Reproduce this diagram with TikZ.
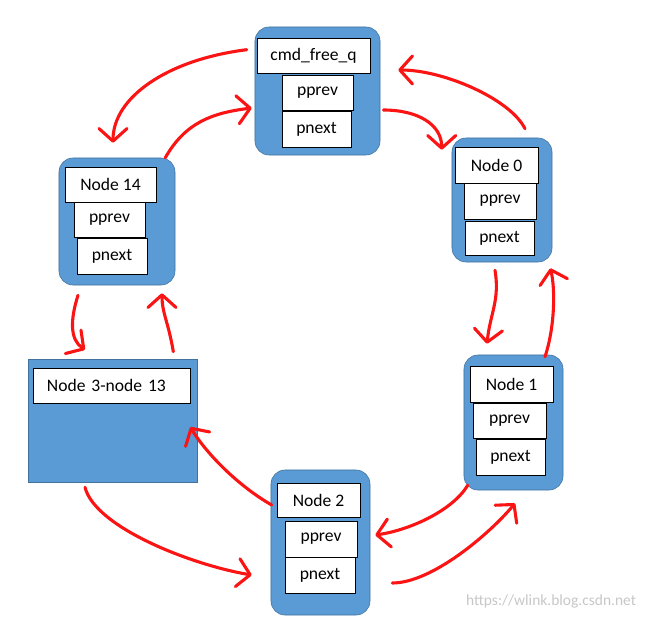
\documentclass[tikz,border=0pt]{standalone}
\usepackage{fontspec}
\setmainfont{Carlito}
\definecolor{boxblue}{RGB}{91,155,213}
\definecolor{edgeblue}{RGB}{65,113,156}
\definecolor{linkred}{RGB}{250,20,20}
\usetikzlibrary{arrows.meta, calc}

\begin{document}
\begin{tikzpicture}[x=0.025cm, y=-0.025cm,
  outer/.style={draw=edgeblue, fill=boxblue, rounded corners=10pt, inner sep=0pt},
  flat/.style={draw=edgeblue, fill=boxblue, inner sep=0pt},
  cell/.style={draw=black, fill=white, inner sep=0pt, font=\fontsize{12.5}{14}\selectfont},
  link/.style={linkred, line width=2.2pt, line cap=round, line join=round,
    -{Straight Barb[length=9pt, width=20pt, round]}}]
  \useasboundingbox (0,0) rectangle (649,618);

  % cmd_free_q
  \node[outer, minimum width=3.125cm, minimum height=3.2cm] (q) at (317.5,91) {};
  \node[cell, minimum width=2.825cm, minimum height=0.875cm] (qtitle) at (313.5,55.5) {cmd\_free\_q};
  \node[cell, minimum width=1.775cm, minimum height=0.875cm] (qprev) at (317.5,92.5) {pprev};
  \node[cell, minimum width=1.725cm, minimum height=0.9cm] (qnext) at (316.5,129) {pnext};

  % Node 14
  \node[outer, minimum width=2.9cm, minimum height=3.175cm] (n14) at (117,221.5) {};
  \node[cell, minimum width=2.275cm, minimum height=0.875cm] (n14title) at (110.5,184.5) {Node 14};
  \node[cell, minimum width=1.775cm, minimum height=0.875cm] (n14prev) at (109.5,219.5) {pprev};
  \node[cell, minimum width=1.75cm, minimum height=0.9cm] (n14next) at (112,256) {pnext};

  % Node 0
  \node[outer, minimum width=2.5cm, minimum height=3.1cm] (n0) at (502,200) {};
  \node[cell, minimum width=2.075cm, minimum height=0.9cm] (n0title) at (496.5,165) {Node 0};
  \node[cell, minimum width=1.8cm, minimum height=0.9cm] (n0prev) at (500,201) {pprev};
  \node[cell, minimum width=1.725cm, minimum height=0.85cm] (n0next) at (499.5,238) {pnext};

  % Node 1
  \node[outer, minimum width=2.475cm, minimum height=3.375cm] (n1) at (513.5,422.5) {};
  \node[cell, minimum width=2.075cm, minimum height=0.9cm] (n1title) at (511.5,384) {Node 1};
  \node[cell, minimum width=1.825cm, minimum height=0.875cm] (n1prev) at (509.5,420.5) {pprev};
  \node[cell, minimum width=1.725cm, minimum height=0.9cm] (n1next) at (510.5,457) {pnext};

  % Node 2
  \node[outer, minimum width=2.475cm, minimum height=3.625cm] (n2) at (320.5,542.5) {};
  \node[cell, minimum width=2.075cm, minimum height=0.85cm] (n2title) at (318.5,500) {Node 2};
  \node[cell, minimum width=1.8cm, minimum height=0.9cm] (n2prev) at (321,539) {pprev};
  \node[cell, minimum width=1.75cm, minimum height=0.9cm] (n2next) at (320,575) {pnext};

  % Node 3 - node 13
  \node[flat, minimum width=4.225cm, minimum height=3.075cm] (nmid) at (112.5,420.5) {};
  \node[cell, minimum width=3.925cm, minimum height=0.875cm, inner xsep=0.35cm,
    text width=3.225cm, align=left] (nmidtitle) at (111.5,385.5) {Node 3-node 13};

  % links
  \draw[link] ($(q.north west)+(-8,23)$) .. controls +(-80,10) and +(0,-45) .. ($(n14.north)+(-4,-15)$);
  \draw[link] ($(n14.north east)+(-10,0)$) .. controls +(20,-35) and +(-40,5) .. ($(q.west)+(-3,17)$);
  \draw[link] ($(q.east)+(3,19)$) .. controls +(35,0) and +(0,-25) .. ($(n0.north west)+(-10,12)$);
  \draw[link] ($(n0.north)+(23,-9)$) .. controls +(-15,-30) and +(45,0) .. ($(q.east)+(18,-21)$);
  \draw[link] ($(n0.south)+(-7,8)$) .. controls +(5,30) and +(3,-30) .. ($(n1.north)+(-26.5,-11)$);
  \draw[link] ($(n1.north)+(31.5,2)$) .. controls +(10,-30) and +(5,20) .. ($(n0.south east)+(-2,6)$);
  \draw[link] ($(n1.south west)+(4,-5)$) .. controls +(-15,25) and +(35,-5) .. ($(n2.east)+(5,-7.5)$);
  \draw[link] ($(n2.east)+(22,40.5)$) .. controls +(40,0) and +(-25,30) .. ($(n1.south)+(1.5,13)$);
  \draw[link] ($(n2.west)+(1,-37.5)$) .. controls +(-35,-20) and +(15,25) .. ($(nmid.east)+(-7,6.5)$);
  \draw[link] ($(nmid.south)+(-27.5,5)$) .. controls +(10,40) and +(-60,-10) .. ($(n2.west)+(-19,32.5)$);
  \draw[link] ($(nmid.north east)+(-24,-7)$) .. controls +(-5,-30) and +(0,20) .. ($(n14.south)+(45,8)$);
  \draw[link] ($(n14.south)+(-39,10)$) .. controls +(-8,25) and +(-15,-10) .. ($(nmid.north)+(-27.5,-9)$);

  % watermark
  \node[text=black!22, font=\fontsize{11}{13}\selectfont, anchor=east] (mark) at (641,601) {https://wlink.blog.csdn.net};
\end{tikzpicture}
\end{document}
